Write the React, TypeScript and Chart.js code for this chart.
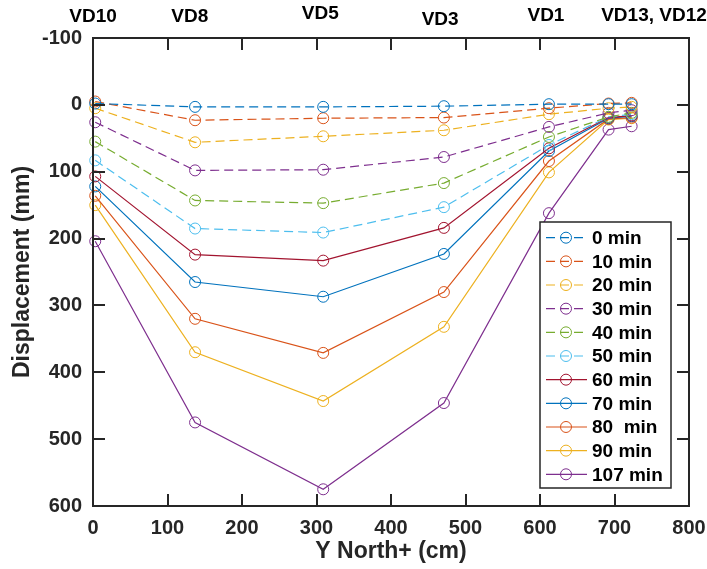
import React, { useEffect, useRef } from 'react';
import { Chart, registerables } from 'chart.js';

Chart.register(...registerables);

// ---------- data ----------
const xPositions = [3, 137, 309, 471, 612, 692, 723];

const seriesNames = ['0 min', '10 min', '20 min', '30 min', '40 min', '50 min', '60 min', '70 min', '80  min', '90 min', '107 min'];

const d0 = [-2, 3, 3, 2, -1, -1, -1];
const d10 = [-5, 23, 20, 19, 5, -2, -3];
const d20 = [5, 56, 47, 38, 14, 5, 3];
const d30 = [26, 98, 97, 78, 33, 12, 8];
const d40 = [55, 143, 147, 117, 48, 18, 12];
const d50 = [83, 185, 191, 153, 60, 18, 14];
const d60 = [107, 224, 233, 184, 65, 19, 16];
const d70 = [122, 265, 287, 223, 69, 20, 17];
const d80 = [136, 320, 371, 280, 84, 21, 19];
const d90 = [150, 370, 443, 332, 101, 22, 20];
const d107 = [204, 475, 575, 446, 162, 37, 32];

const seriesValues = [d0, d10, d20, d30, d40, d50, d60, d70, d80, d90, d107];

const seriesColors = ['#0072BD', '#D95319', '#EDB120', '#7E2F8E', '#77AC30', '#4DBEEE', '#A2142F', '#0072BD', '#D95319', '#EDB120', '#7E2F8E'];
const dashedSeries = [true, true, true, true, true, true, false, false, false, false, false];

const topLabels = ['VD10', 'VD8', 'VD5', 'VD3', 'VD1', 'VD13, VD12'];
const topLabelX = [0, 130, 305, 466, 608, 753];

const xMin = 0, xMax = 800, xStep = 100;
const yMin = -100, yMax = 600, yStep = 100;

const xTitle = 'Y North+ (cm)';
const yTitle = 'Displacement (mm)';

// ---------- styles ----------
const FONT = "'Liberation Sans', Arial, Helvetica, sans-serif";
const AXIS_COLOR = '#262626';
const TICK_LEN = 12;
const DASH = [9, 5];
const topLabelPixelY = [17, 17, 14, 20, 16, 16];

const framePlugin = {
  id: 'framePlugin',
  afterDatasetsDraw(chart: any) {
    const { ctx, chartArea, scales } = chart;
    const { left, right, top, bottom } = chartArea;
    ctx.save();
    ctx.strokeStyle = AXIS_COLOR;
    ctx.lineWidth = 2;
    ctx.setLineDash([]);
    ctx.strokeRect(left, top, right - left, bottom - top);
    ctx.beginPath();
    scales.x.ticks.forEach((t: any) => {
      const px = Math.round(scales.x.getPixelForValue(t.value));
      ctx.moveTo(px, bottom);
      ctx.lineTo(px, bottom - TICK_LEN);
      ctx.moveTo(px, top);
      ctx.lineTo(px, top + TICK_LEN);
    });
    scales.y.ticks.forEach((t: any) => {
      const py = Math.round(scales.y.getPixelForValue(t.value));
      ctx.moveTo(left, py);
      ctx.lineTo(left + TICK_LEN, py);
      ctx.moveTo(right, py);
      ctx.lineTo(right - TICK_LEN, py);
    });
    ctx.stroke();
    ctx.restore();
  },
  afterDraw(chart: any) {
    const { ctx, scales } = chart;
    ctx.save();
    // top labels
    ctx.fillStyle = '#000';
    ctx.font = `bold 19px ${FONT}`;
    ctx.textAlign = 'center';
    ctx.textBaseline = 'middle';
    topLabels.forEach((lbl, i) => {
      ctx.fillText(lbl, scales.x.getPixelForValue(topLabelX[i]), topLabelPixelY[i]);
    });

    // legend
    const bx = 540, by = 222, bw = 131, bh = 266;
    ctx.fillStyle = '#fff';
    ctx.fillRect(bx, by, bw, bh);
    ctx.strokeStyle = AXIS_COLOR;
    ctx.lineWidth = 1.5;
    ctx.strokeRect(bx, by, bw, bh);
    const rowY0 = 237.7, rowStep = 23.66;
    seriesNames.forEach((name, i) => {
      const y = rowY0 + i * rowStep;
      ctx.strokeStyle = seriesColors[i];
      ctx.lineWidth = 1.2;
      ctx.setLineDash(dashedSeries[i] ? DASH : []);
      ctx.beginPath();
      ctx.moveTo(546, y);
      ctx.lineTo(587, y);
      ctx.stroke();
      ctx.setLineDash([]);
      ctx.lineWidth = 1;
      ctx.beginPath();
      ctx.arc(566, y, 5.5, 0, Math.PI * 2);
      ctx.stroke();
      ctx.fillStyle = '#000';
      ctx.font = `bold 19px ${FONT}`;
      ctx.textAlign = 'left';
      ctx.textBaseline = 'middle';
      ctx.fillText(name, 592, y + 1);
    });
    ctx.restore();
  },
};

export default function App() {
  const canvasRef = useRef<HTMLCanvasElement | null>(null);

  useEffect(() => {
    if (!canvasRef.current) return;
    const datasets = seriesValues.map((vals, i) => ({
      label: seriesNames[i],
      data: vals.map((v, j) => ({ x: xPositions[j], y: v })),
      borderColor: seriesColors[i],
      backgroundColor: 'rgba(0,0,0,0)',
      borderWidth: 1.2,
      borderDash: dashedSeries[i] ? DASH : [],
      pointStyle: 'circle',
      pointRadius: 5.5,
      pointBorderWidth: 1,
      pointBorderColor: seriesColors[i],
      pointBackgroundColor: 'rgba(0,0,0,0)',
      fill: false,
      tension: 0,
      clip: false as any,
    }));

    const chart = new Chart(canvasRef.current, {
      type: 'line',
      data: { datasets },
      options: {
        responsive: false,
        animation: false,
        devicePixelRatio: 1,
        layout: { padding: { top: 38, right: 18, left: 0, bottom: 0 } },
        plugins: {
          legend: { display: false },
          tooltip: { enabled: false },
        },
        scales: {
          x: {
            type: 'linear',
            min: xMin,
            max: xMax,
            grid: { display: false, drawTicks: false },
            border: { display: false },
            ticks: {
              stepSize: xStep,
              color: AXIS_COLOR,
              font: { family: FONT, size: 20, weight: 'bold' },
              padding: 10,
              maxRotation: 0,
            },
            title: {
              display: true,
              text: xTitle,
              color: AXIS_COLOR,
              font: { family: FONT, size: 23, weight: 'bold' },
              padding: { top: 0, bottom: 4 },
            },
            afterFit: (s: any) => {
              s.height = 63;
              s.paddingLeft = 0;
              s.paddingRight = 0;
            },
          },
          y: {
            type: 'linear',
            reverse: true,
            min: yMin,
            max: yMax,
            grid: { display: false, drawTicks: false },
            border: { display: false },
            ticks: {
              stepSize: yStep,
              color: AXIS_COLOR,
              font: { family: FONT, size: 20, weight: 'bold' },
              padding: 11,
            },
            title: {
              display: true,
              text: yTitle,
              color: AXIS_COLOR,
              font: { family: FONT, size: 23, weight: 'bold' },
              padding: { top: 9, bottom: 0 },
            },
            afterFit: (s: any) => {
              s.width = 93;
              s.paddingTop = 0;
              s.paddingBottom = 0;
            },
          },
        },
      } as any,
      plugins: [framePlugin],
    });
    return () => chart.destroy();
  }, []);

  return (
    <div style={{ position: 'fixed', left: 0, top: 0, width: 707, height: 569, background: '#fff' }}>
      <canvas ref={canvasRef} width={707} height={569} style={{ display: 'block' }} />
    </div>
  );
}
